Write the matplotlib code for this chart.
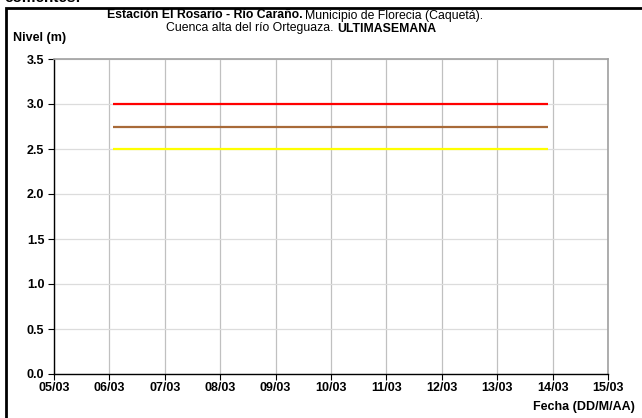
import matplotlib
matplotlib.use("Agg")
import matplotlib.pyplot as plt
from matplotlib.patches import Rectangle
import datetime as dt

plt.rcParams['font.family'] = ['Liberation Sans', 'DejaVu Sans']

# Data
times = [dt.datetime(2024, 3, 6, 1, 30), dt.datetime(2024, 3, 13, 22, 0)]
nivel_rojo = [3.0, 3.0]
nivel_naranja = [2.75, 2.75]
nivel_amarillo = [2.5, 2.5]
x_ticks = [dt.datetime(2024, 3, d) for d in range(5, 16)]
x_labels = [f"{d:02d}/03" for d in range(5, 16)]
y_ticks = [0.0, 0.5, 1.0, 1.5, 2.0, 2.5, 3.0, 3.5]

W, H = 642, 418
fig = plt.figure(figsize=(W / 100, H / 100), dpi=100)
ax = fig.add_axes([54 / W, 1 - 374 / H, (608 - 54) / W, (374 - 59) / H])

ax.plot(times, nivel_rojo, color='#ff0000', lw=1.6, solid_capstyle='butt', zorder=3)
ax.plot(times, nivel_naranja, color='#a86a38', lw=1.6, solid_capstyle='butt', zorder=3)
ax.plot(times, nivel_amarillo, color='#ffff00', lw=1.6, solid_capstyle='butt', zorder=3)

ax.set_xlim(x_ticks[0], x_ticks[-1])
ax.set_ylim(0, 3.5)
ax.set_xticks(x_ticks)
ax.set_xticklabels(x_labels, fontweight='bold', fontsize=9)
ax.set_yticks(y_ticks)
ax.set_yticklabels([f"{v:.1f}" for v in y_ticks], fontweight='bold', fontsize=9)
ax.tick_params(axis='x', direction='out', length=4, width=0.8, color='black', pad=1.5)
ax.tick_params(axis='y', direction='out', length=4, width=0.8, color='black', pad=3)

ax.grid(axis='x', color='#c0c0c0', lw=0.9)
ax.grid(axis='y', color='#dcdcdc', lw=0.9)
ax.set_axisbelow(True)

for s in ['top', 'right']:
    ax.spines[s].set_color('#a0a0a0')
    ax.spines[s].set_linewidth(1.2)
for s in ['left', 'bottom']:
    ax.spines[s].set_color('black')
    ax.spines[s].set_linewidth(1.0)

# Frame
fig.patches.append(Rectangle((6 / W, -0.1), 1.2, 1 - 7.5 / H + 0.1, transform=fig.transFigure,
                             fill=False, edgecolor='black', lw=2.0, zorder=0))
fig.text(4 / W, 1 - 2.5 / H, "comentes:", fontsize=11, fontweight='bold', va='baseline', ha='left')

# Titles
fs_t = 8.8
renderer = fig.canvas.get_renderer()
t1a = fig.text(107 / W, 1 - 18.5 / H, "Estación El Rosario - Río Caraño.", fontsize=fs_t,
               fontweight='bold', ha='left', va='baseline')
w1 = t1a.get_window_extent(renderer).width
fig.text((107 + w1 + 2) / W, 1 - 18.5 / H, "Municipio de Florecia (Caquetá).", fontsize=fs_t,
         ha='left', va='baseline')
t2a = fig.text(166 / W, 1 - 31.5 / H, "Cuenca alta del río Orteguaza.", fontsize=fs_t,
               ha='left', va='baseline')
w2 = t2a.get_window_extent(renderer).width
fig.text((166 + w2 + 4) / W, 1 - 31.5 / H, "ULTIMASEMANA", fontsize=fs_t, fontweight='bold',
         ha='left', va='baseline')

fig.text(13 / W, 1 - 41 / H, "Nivel (m)", fontsize=9, fontweight='bold', ha='left', va='baseline')
fig.text(635 / W, 1 - 410 / H, "Fecha (DD/M/AA)", fontsize=9, fontweight='bold', ha='right', va='baseline')

fig.savefig("out.png", dpi=100)
